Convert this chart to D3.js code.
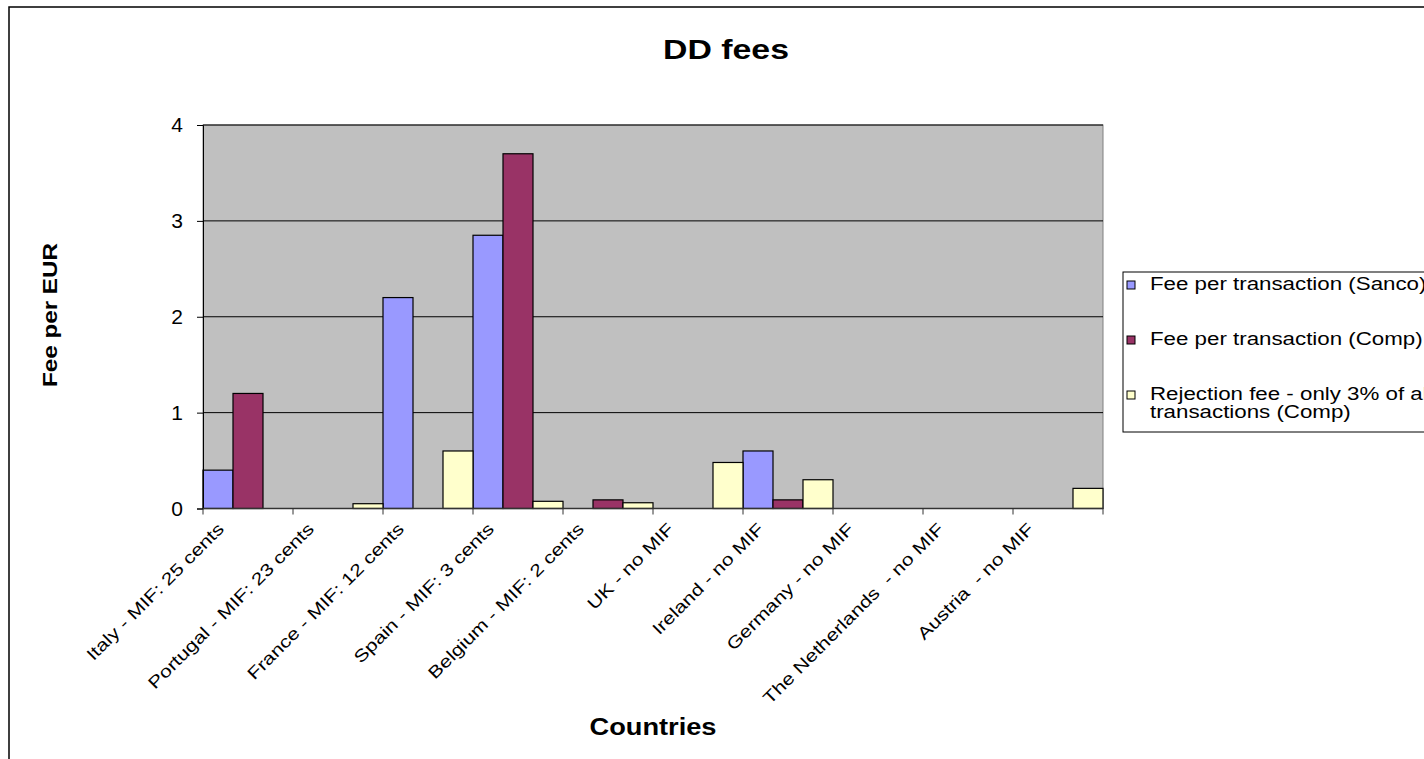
<!DOCTYPE html>
<html>
<head>
<meta charset="utf-8">
<script src="https://cdn.jsdelivr.net/npm/d3@7"></script>
<style>
  html, body { margin: 0; padding: 0; background: #fff; overflow: hidden; }
  svg { display: block; font-family: "Liberation Sans", Arial, sans-serif; }
  text { white-space: pre; }
</style>
</head>
<body>
<svg id="chart" width="1424" height="759"></svg>
<script>
const categories = [
  "Italy - MIF: 25 cents",
  "Portugal - MIF: 23 cents",
  "France - MIF: 12 cents",
  "Spain - MIF: 3 cents",
  "Belgium - MIF: 2 cents",
  "UK - no MIF",
  "Ireland - no MIF",
  "Germany - no MIF",
  "The Netherlands  - no MIF",
  "Austria  - no MIF"
];
const seriesNames = [
  "Fee per transaction (Sanco)",
  "Fee per transaction (Comp)",
  "Rejection fee - only 3% of all transactions (Comp)"
];
const sanco     = [0.4, 0, 2.2, 2.85, 0, 0, 0.6, 0, 0, 0];
const comp      = [1.2, 0, 0, 3.7, 0.09, 0, 0.09, 0, 0, 0];
const rejection = [0, 0.05, 0.6, 0.075, 0.06, 0.48, 0.3, 0, 0, 0.21];
const yTicks = [0, 1, 2, 3, 4];
const colors = ["#9999FF", "#993366", "#FFFFCC"];

const seriesValues = [sanco, comp, rejection];

const svg = d3.select("#chart");
const plot = { left: 203, right: 1103, top: 125, bottom: 508.5 };

// outer chart border
svg.append("rect")
  .attr("x", 9).attr("y", 7).attr("width", 1500).attr("height", 800)
  .attr("fill", "#fff").attr("stroke", "#000").attr("stroke-width", 1.5);

const x = d3.scaleBand().domain(categories).range([plot.left, plot.right]).padding(0);
const xs = d3.scaleBand().domain(d3.range(seriesNames.length)).range([0, x.bandwidth()]).padding(0);
const y = d3.scaleLinear().domain([0, 4]).range([plot.bottom, plot.top]);

// plot area
svg.append("rect")
  .attr("x", plot.left).attr("y", plot.top)
  .attr("width", plot.right - plot.left).attr("height", plot.bottom - plot.top)
  .attr("fill", "#C0C0C0").attr("stroke", "#808080").attr("stroke-width", 1);

// gridlines
svg.append("g").selectAll("line").data(yTicks.filter(d => d > 0)).join("line")
  .attr("x1", plot.left).attr("x2", plot.right)
  .attr("y1", d => y(d)).attr("y2", d => y(d))
  .attr("stroke", "#000").attr("stroke-width", 1);

// bars
const barData = [];
seriesValues.forEach((vals, si) => {
  vals.forEach((v, ci) => { if (v > 0) barData.push({ si, ci, v }); });
});
svg.append("g").selectAll("rect").data(barData).join("rect")
  .attr("x", d => x(categories[d.ci]) + xs(d.si))
  .attr("width", xs.bandwidth())
  .attr("y", d => y(d.v))
  .attr("height", d => y(0) - y(d.v))
  .attr("fill", d => colors[d.si])
  .attr("stroke", "#000").attr("stroke-width", 1.2);

// y axis
const yAxis = d3.axisLeft(y).tickValues(yTicks).tickSize(6).tickPadding(14).tickFormat(d3.format("d"));
const gy = svg.append("g").attr("transform", `translate(${plot.left},0)`).call(yAxis);
gy.select(".domain").attr("stroke", "#000");
gy.selectAll(".tick line").attr("stroke", "#000");
gy.selectAll(".tick text").attr("font-size", 21).attr("fill", "#000")
  .attr("font-family", "Liberation Sans, Arial, sans-serif");

// x axis: ticks at category boundaries
const gx = svg.append("g");
gx.append("line").attr("x1", plot.left).attr("x2", plot.right)
  .attr("y1", plot.bottom).attr("y2", plot.bottom).attr("stroke", "#333").attr("stroke-width", 1.5);
const boundaries = categories.map(c => x(c)).concat([plot.right]);
gx.selectAll("line.tk").data(boundaries).join("line").attr("class", "tk")
  .attr("x1", d => d).attr("x2", d => d)
  .attr("y1", plot.bottom).attr("y2", plot.bottom + 6)
  .attr("stroke", "#333").attr("stroke-width", 1);

const labelFont = 17;
const labelStretch = 21.2 / labelFont;
gx.selectAll("text.cat").data(categories).join("text").attr("class", "cat")
  .attr("transform", d => `translate(${x(d) + x.bandwidth() / 2 - 23},${530}) rotate(-45)`)
  .attr("text-anchor", "end")
  .attr("font-size", labelFont)
  .attr("fill", "#000")
  .text(d => d)
  .each(function () {
    const L = this.getComputedTextLength();
    d3.select(this).attr("textLength", L * labelStretch).attr("lengthAdjust", "spacingAndGlyphs");
  });

// titles
function stretchText(sel, len) {
  sel.attr("textLength", len).attr("lengthAdjust", "spacingAndGlyphs");
}
svg.append("text").attr("x", 726).attr("y", 59).attr("text-anchor", "middle")
  .attr("font-size", 27).attr("font-weight", "bold").text("DD fees")
  .call(stretchText, 126);

svg.append("text").attr("transform", "translate(57,315) rotate(-90)").attr("text-anchor", "middle")
  .attr("font-size", 21).attr("font-weight", "bold").text("Fee per EUR")
  .call(stretchText, 144);

svg.append("text").attr("x", 653).attr("y", 735).attr("text-anchor", "middle")
  .attr("font-size", 23).attr("font-weight", "bold").text("Countries")
  .call(stretchText, 127);

// legend
const lg = svg.append("g");
lg.append("rect").attr("x", 1123).attr("y", 272).attr("width", 400).attr("height", 160)
  .attr("fill", "#fff").attr("stroke", "#000").attr("stroke-width", 1);
const legendLines = [
  ["Fee per transaction (Sanco)"],
  ["Fee per transaction (Comp)"],
  ["Rejection fee - only 3% of all", "transactions (Comp)"]
];
const legendBase = [290, 345, 400];
const legendFont = 17.5;
const legendStretch = 22.3 / legendFont;
legendLines.forEach((lines, i) => {
  lg.append("rect").attr("x", 1127).attr("y", legendBase[i] - 9).attr("width", 8).attr("height", 8)
    .attr("fill", colors[i]).attr("stroke", "#000").attr("stroke-width", 1);
  lines.forEach((t, j) => {
    lg.append("text").attr("x", 1150).attr("y", legendBase[i] + j * 18)
      .attr("font-size", legendFont).attr("fill", "#000").text(t)
      .each(function () {
        const L = this.getComputedTextLength();
        d3.select(this).attr("textLength", L * legendStretch).attr("lengthAdjust", "spacingAndGlyphs");
      });
  });
});
</script>
</body>
</html>
